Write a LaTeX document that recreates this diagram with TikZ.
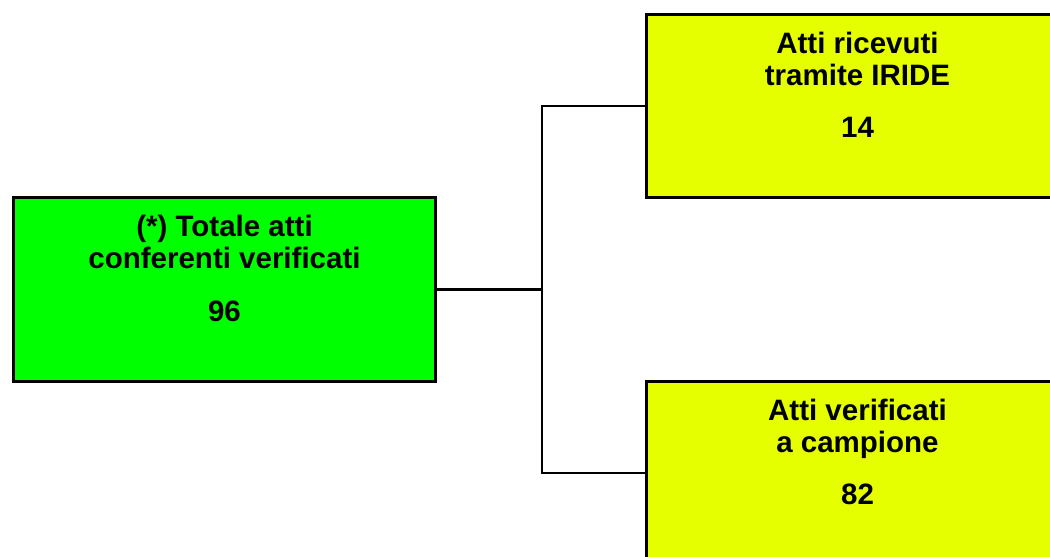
\documentclass[tikz,border=0pt]{standalone}
\usepackage{fontspec}
\setmainfont{Liberation Sans}
\usetikzlibrary{positioning}
\definecolor{verde}{RGB}{0,255,0}
\definecolor{giallo}{RGB}{230,255,0}

\begin{document}
\begin{tikzpicture}[x=1pt,y=-1pt,
 box node/.style={draw,line width=3pt,minimum width=422pt,minimum height=183.5pt,anchor=north west,inner sep=0pt},
 text node/.style={anchor=north,align=center,inner sep=0pt,font=\fontsize{29.5}{32}\selectfont\bfseries}]

  \useasboundingbox (0,0) rectangle (1050,557);
  \clip (0,0) rectangle (1050,557);

  \node[box node,fill=verde] (totale) at (12,196) {};
  \node[box node,fill=giallo] (iride) at (645,12.5) {};
  \node[box node,fill=giallo] (campione) at (645,379.5) {};

  \node[text node] (t1) [below=19pt of totale.north] {(*) Totale atti\\conferenti verificati\\[20.5pt]96};
  \node[text node] (t2) [below=19pt of iride.north] {Atti ricevuti\\tramite IRIDE\\[20.5pt]14};
  \node[text node] (t3) [below=19pt of campione.north] {Atti verificati\\a campione\\[20.5pt]82};

  \coordinate[right=105pt of totale.east] (snodo);
  \draw[line width=2.5pt] (totale.east) -- (snodo);
  \foreach \t in {iride, campione} {
   \path[draw,line width=2.5pt] (snodo) |- (\t.west);}
\end{tikzpicture}
\end{document}
